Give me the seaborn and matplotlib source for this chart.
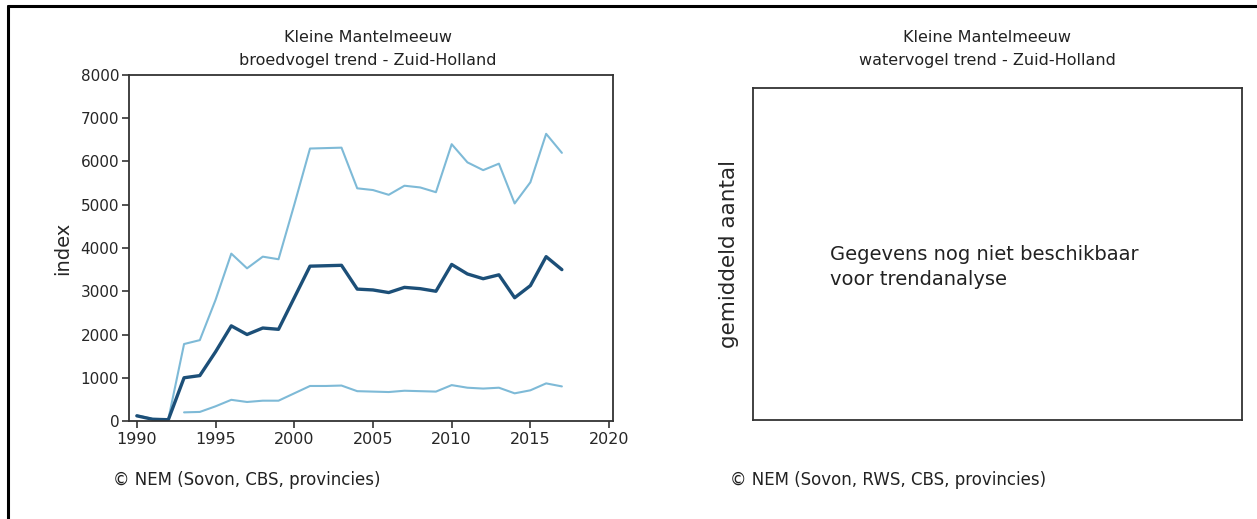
import numpy as np
import pandas as pd
import matplotlib
matplotlib.use("Agg")
import matplotlib.pyplot as plt
import seaborn as sns
from matplotlib.lines import Line2D

# broedvogel index, Kleine Mantelmeeuw, Zuid-Holland
years = list(range(1990, 2018))
index_trend = [120, 40, 30, 1000, 1050, 1600, 2200, 2000, 2150, 2120,
               2850, 3580, 3590, 3600, 3050, 3030, 2970, 3090, 3060, 3000,
               3620, 3400, 3290, 3380, 2850, 3130, 3800, 3500]
index_upper = [130, 50, 40, 1780, 1870, 2800, 3870, 3530, 3800, 3740,
               5000, 6300, 6310, 6320, 5380, 5340, 5230, 5440, 5400, 5290,
               6400, 5980, 5800, 5950, 5030, 5520, 6640, 6200]
index_lower = [np.nan, np.nan, np.nan, 200, 210, 340, 490, 440, 470, 470,
               640, 810, 810, 820, 690, 680, 670, 700, 690, 680,
               830, 770, 750, 770, 640, 710, 870, 800]

x_ticks = [1990, 1995, 2000, 2005, 2010, 2015, 2020]
y_ticks = [0, 1000, 2000, 3000, 4000, 5000, 6000, 7000, 8000]

dark = "#1c4f78"
light = "#7ebad7"
spine_col = "#333333"

sns.set_theme(style="white")
plt.rcParams['font.family'] = ['DejaVu Sans']

df = pd.DataFrame({"jaar": years, "trend": index_trend,
                   "boven": index_upper, "onder": index_lower})

fig = plt.figure(figsize=(12.57, 5.19), dpi=100)

# left panel: broedvogel trend
ax1 = fig.add_axes([0.1026, 0.1888, 0.3851, 0.6667])
sns.lineplot(data=df, x="jaar", y="boven", color=light, linewidth=1.5, ax=ax1)
sns.lineplot(data=df, x="jaar", y="onder", color=light, linewidth=1.5, ax=ax1)
sns.lineplot(data=df, x="jaar", y="trend", color=dark, linewidth=2.4, ax=ax1)
ax1.set_xlim(1989.5, 2020.25)
ax1.set_ylim(0, 8000)
ax1.set_xticks(x_ticks)
ax1.set_yticks(y_ticks)
ax1.set_xlabel("")
ax1.set_ylabel("index", fontsize=14, labelpad=6)
ax1.tick_params(axis="both", length=5, width=1.2, direction="out",
                color=spine_col)
ax1.tick_params(axis="x", bottom=True, labelsize=11.5, pad=3)
ax1.tick_params(axis="y", left=True, labelsize=11, pad=2)

# right panel: watervogel trend (no data)
ax2 = fig.add_axes([0.599, 0.1907, 0.3893, 0.6397])
ax2.set_xticks([])
ax2.set_yticks([])
ax2.set_ylabel("gemiddeld aantal", fontsize=15.5, labelpad=10)
ax2.text(0.158, 0.46, "Gegevens nog niet beschikbaar\nvoor trendanalyse",
         transform=ax2.transAxes, fontsize=14, ha="left", va="center",
         linespacing=1.4, color="#222222")

for ax in (ax1, ax2):
    for sp in ax.spines.values():
        sp.set_visible(True)
        sp.set_color(spine_col)
        sp.set_linewidth(1.3)

# titles
for cx, sub in ((0.2928, "broedvogel trend - Zuid-Holland"),
                (0.7853, "watervogel trend - Zuid-Holland")):
    fig.text(cx, 0.927, "Kleine Mantelmeeuw", ha="center", va="center",
             fontsize=11.5, color="#222222")
    fig.text(cx, 0.884, sub, ha="center", va="center",
             fontsize=11.5, color="#222222")

# source lines
fig.text(0.090, 0.075, "\u00a9 NEM (Sovon, CBS, provincies)", ha="left",
         va="center", fontsize=12, color="#222222")
fig.text(0.581, 0.075, "\u00a9 NEM (Sovon, RWS, CBS, provincies)", ha="left",
         va="center", fontsize=12, color="#222222")

# outer frame (top and left edge)
fig.add_artist(Line2D([0.0064, 1.0], [0.9884, 0.9884], color="black",
                      linewidth=2.2, transform=fig.transFigure))
fig.add_artist(Line2D([0.0064, 0.0064], [0.0, 0.9884], color="black",
                      linewidth=2.2, transform=fig.transFigure))

fig.savefig("out.png", dpi=100)
